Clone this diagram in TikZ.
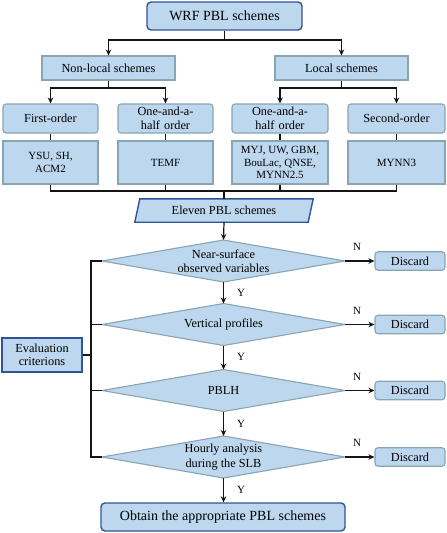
\documentclass[tikz,border=0pt]{standalone}
\usepackage{fontspec}
\setmainfont{Liberation Serif}
\usetikzlibrary{arrows.meta,calc}
\definecolor{boxfill}{RGB}{189,215,238}
\definecolor{softedge}{RGB}{135,165,178}
\definecolor{darkedge}{RGB}{47,85,151}
\definecolor{linec}{RGB}{20,20,20}
\tikzset{
  basebox/.style={fill=boxfill, inner sep=0pt, align=center, font=\fontsize{12.3}{13.5}\selectfont},
  softbox/.style={basebox, draw=softedge, line width=1.1pt},
  softround/.style={softbox, rounded corners=3pt},
  darkbox/.style={basebox, draw=darkedge, line width=1.4pt},
  darkround/.style={darkbox, rounded corners=4pt},
  listbox/.style={softbox, font=\fontsize{11}{12.5}\selectfont},
  conn/.style={draw=linec, line width=1.2pt},
  arr/.style={conn, -{Stealth[length=6pt,width=5.5pt]}},
  yn/.style={font=\fontsize{11}{12}\selectfont, inner sep=0pt},
  dtext/.style={inner sep=0pt, align=center, font=\fontsize{12.3}{14.5}\selectfont},
}
\begin{document}
\begin{tikzpicture}[x=1pt,y=-1pt]
\useasboundingbox (0,0) rectangle (447,533);
% top
\node[darkround, minimum width=155pt, minimum height=28pt, font=\fontsize{14}{16}\selectfont] (wrf) at (224.5,16) {WRF PBL schemes};
\node[softbox, minimum width=133pt, minimum height=24pt] (nonlocal) at (108.5,68) {Non-local schemes};
\node[softbox, minimum width=133pt, minimum height=24pt] (local) at (341.5,68) {Local schemes};
% second level
\node[softround, minimum width=95pt, minimum height=29pt] (fo) at (50.5,118.5) {First-order};
\node[softround, minimum width=95pt, minimum height=29pt, text width=90pt] (oh1) at (165.5,118.5) {One-and-a-\\half order};
\node[softround, minimum width=96pt, minimum height=29pt, text width=90pt] (oh2) at (280,118.5) {One-and-a-\\half order};
\node[softround, minimum width=97pt, minimum height=29pt] (so) at (396.5,118.5) {Second-order};
% lists
\node[listbox, minimum width=95pt, minimum height=43pt] (l1) at (50.5,162.5) {YSU, SH,\\ACM2};
\node[listbox, minimum width=95pt, minimum height=43pt] (l2) at (165.5,162.5) {TEMF};
\node[listbox, minimum width=96pt, minimum height=43pt] (l3) at (280,162.5) {MYJ, UW, GBM,\\BouLac, QNSE,\\MYNN2.5};
\node[listbox, minimum width=97pt, minimum height=43pt] (l4) at (396.5,162.5) {MYNN3};
% parallelogram
\node[inner sep=0pt, minimum width=178pt, minimum height=23pt, font=\fontsize{12.3}{14}\selectfont] (eleven) at (224,210.5) {Eleven PBL schemes};
\begin{scope}[on background layer/.try]
\end{scope}
\path[fill=boxfill, draw=darkedge, line width=1.4pt]
  ([xshift=5pt]eleven.north west) -- (eleven.north east) -- ([xshift=-5pt]eleven.south east) -- (eleven.south west) -- cycle;
\node[inner sep=0pt, font=\fontsize{12.3}{14}\selectfont] at (eleven) {Eleven PBL schemes};
% diamonds
\foreach \n/\yy in {d1/261, d2/324.5, d3/390.5, d4/457}{
  \coordinate (\n t) at (223.5,\yy-21);
  \coordinate (\n b) at (223.5,\yy+21);
  \coordinate (\n l) at (102,\yy);
  \coordinate (\n r) at (345,\yy);
  \path[fill=boxfill, draw=softedge, line width=1.1pt] (\n t) -- (\n r) -- (\n b) -- (\n l) -- cycle;
}
\node[dtext] (d1) at (223.5,261) {Near-surface\\observed variables};
\node[dtext] (d2) at (223.5,324.5) {Vertical profiles};
\node[dtext] (d3) at (223.5,390.5) {PBLH};
\node[dtext] (d4) at (223.5,457) {Hourly analysis\\during the SLB};
% discards
\foreach \n/\yy in {d1/261, d2/324.5, d3/390.5, d4/457}{
  \node[softround, minimum width=70pt, minimum height=18.5pt] (x\n) at (410,\yy) {Discard};
  \draw[arr] (\n r) -- (x\n.west);
  \node[yn] at (357,\yy-14) {N};
}
% evaluation
\node[darkbox, minimum width=80pt, minimum height=34pt] (eval) at (42,355) {Evaluation\\criterions};
\coordinate (bus) at (91,355);
% final
\node[darkround, minimum width=244pt, minimum height=28pt, font=\fontsize{14}{16}\selectfont] (obtain) at (223,517) {Obtain the appropriate PBL schemes};
% connectors top
\coordinate (s1) at (224.5,40);
\draw[conn] (wrf.south) -- (s1);
\draw[arr] (s1) -| (nonlocal.north);
\draw[arr] (s1) -| (local.north);
\coordinate (s2) at (108.5,88);
\draw[conn] (nonlocal.south) -- (s2);
\draw[arr] (s2) -| (fo.north);
\draw[arr] (s2) -| (oh1.north);
\coordinate (s3) at (341.5,88);
\draw[conn] (local.south) -- (s3);
\draw[arr] (s3) -| (oh2.north);
\draw[arr] (s3) -| (so.north);
\draw[conn] (fo.south) -- (l1.north);
\draw[conn] (oh1.south) -- (l2.north);
\draw[conn] (oh2.south) -- (l3.north);
\draw[conn] (so.south) -- (l4.north);
\coordinate (s4) at (224,191);
\draw[conn] (l1.south) |- (s4);
\draw[conn] (l2.south) |- (s4);
\draw[conn] (l3.south) |- (s4);
\draw[conn] (l4.south) |- (s4);
\draw[conn] (s4) -- (eleven.north);
\draw[arr] (eleven.south) -- (d1t);
\draw[arr] (d1b) -- (d2t);
\draw[arr] (d2b) -- (d3t);
\draw[arr] (d3b) -- (d4t);
\draw[arr] (d4b) -- ([xshift=0.5pt]obtain.north);
\foreach \yy in {292.5, 357, 423.5, 490}{\node[yn] at (241,\yy) {Y};}
% evaluation bus
\draw[conn] (eval.east) -- (bus);
\draw[conn] (d1l) -| (91,457) -- (d4l);
\draw[conn] (91,324.5) -- (d2l);
\draw[conn] (91,390.5) -- (d3l);
\end{tikzpicture}
\end{document}
